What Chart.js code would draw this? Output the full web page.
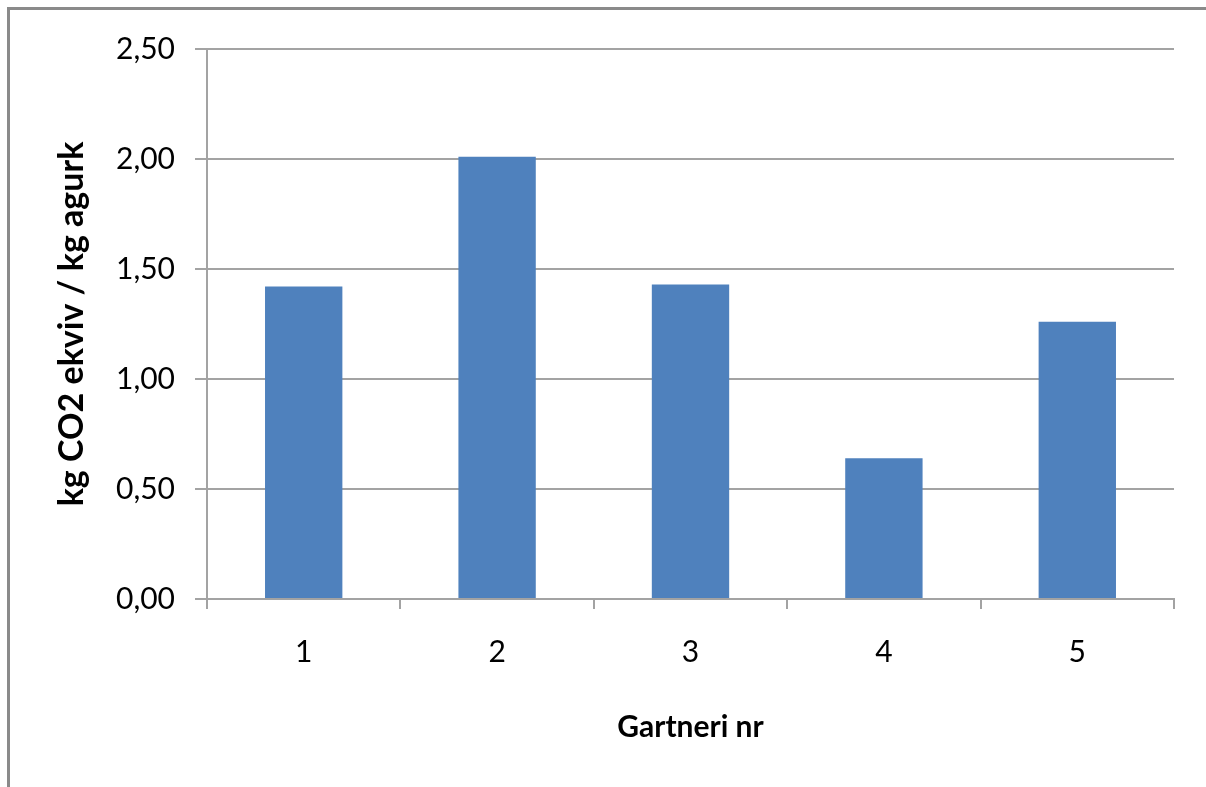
<!DOCTYPE html>
<html>
<head>
<meta charset="utf-8">
<script src="https://cdn.jsdelivr.net/npm/chart.js@4.4.1/dist/chart.umd.min.js"></script>
<style>
  html, body { margin: 0; padding: 0; background: #fff; overflow: hidden; }
  #frame {
    position: absolute; left: 7px; top: 7px;
    width: 1400px; height: 1000px;
    border: 3px solid #8a8a8a; box-sizing: border-box;
  }
  #wrap { position: absolute; left: 0; top: 0; width: 1206px; height: 787px; }
</style>
</head>
<body>
<div id="frame"></div>
<div id="wrap"><canvas id="chart" width="1206" height="787"></canvas></div>
<script>
// Gartneri (nursery) numbers and their CO2 footprint per kg cucumber
const categories = ['1', '2', '3', '4', '5'];
const co2PerKg = [1.42, 2.01, 1.43, 0.64, 1.26];
const yTickValues = [0, 0.5, 1.0, 1.5, 2.0, 2.5];

const xTitle = 'Gartneri nr';
const yTitle = 'kg CO2 ekviv / kg agurk';

const FONT = 'Lato, "Open Sans", "DejaVu Sans", sans-serif';
const GRID = '#a3a3a3';

new Chart(document.getElementById('chart'), {
  type: 'bar',
  data: {
    labels: categories,
    datasets: [{
      data: co2PerKg,
      backgroundColor: '#4f81bd',
      borderWidth: 0,
      barPercentage: 0.4,
      categoryPercentage: 1.0
    }]
  },
  options: {
    responsive: false,
    animation: false,
    layout: { padding: { left: 52, right: 32, top: 49, bottom: 0 } },
    plugins: { legend: { display: false }, tooltip: { enabled: false } },
    scales: {
      x: {
        offset: true,
        grid: {
          offset: true,
          drawOnChartArea: false,
          drawTicks: true,
          tickLength: 10,
          color: GRID,
          lineWidth: 2
        },
        border: { display: true, color: GRID, width: 2 },
        ticks: {
          color: '#000',
          padding: 25,
          font: { family: FONT, size: 30 }
        },
        title: {
          display: true,
          text: xTitle,
          color: '#000',
          padding: { top: 0, bottom: 42 },
          font: { family: FONT, size: 30, weight: 'bold' }
        },
        afterFit: (s) => { s.height = 188; }
      },
      y: {
        min: 0,
        max: 2.5,
        afterBuildTicks: (s) => { s.ticks = yTickValues.map(v => ({ value: v })); },
        grid: {
          color: GRID,
          lineWidth: 2,
          drawTicks: true,
          tickLength: 12
        },
        border: { display: true, color: GRID, width: 2 },
        ticks: {
          color: '#000',
          padding: 20,
          font: { family: FONT, size: 30 }, 
          callback: (v) => Number(v).toFixed(2).replace('.', ',')
        },
        title: {
          display: true,
          text: yTitle,
          color: '#000',
          padding: { top: 0, bottom: 0 },
          font: { family: FONT, size: 34, weight: 'bold' }
        },
        afterFit: (s) => { s.width = 155; }
      }
    }
  }
});
</script>
</body>
</html>
